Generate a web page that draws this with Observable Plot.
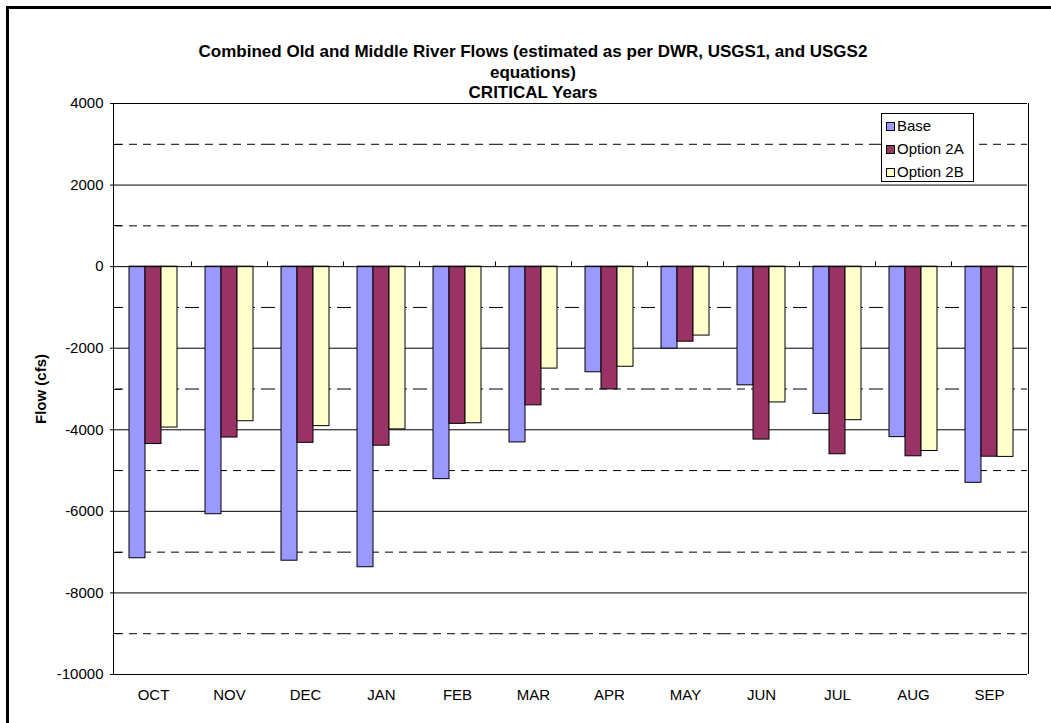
<!DOCTYPE html>
<html><head><meta charset="utf-8">
<script src="https://cdn.jsdelivr.net/npm/d3@7"></script>
<script src="https://cdn.jsdelivr.net/npm/@observablehq/plot@0.6"></script>
<style>
body{margin:0;background:#fff;font-family:"Liberation Sans",Arial,sans-serif;}
#wrap{position:relative;width:1051px;height:723px;overflow:hidden;background:#fff;}
#wrap svg{position:absolute;left:0;top:0;}
#border{position:absolute;left:6px;top:6px;width:1100px;height:800px;border-left:3px solid #000;border-top:3px solid #000;}
.title{position:absolute;left:0;width:1066px;text-align:center;font-weight:bold;font-size:17px;line-height:20px;color:#000;white-space:nowrap;}
#ylabel{position:absolute;left:41px;top:424px;transform-origin:0 0;transform:rotate(-90deg) translateY(-50%);font-weight:bold;font-size:15px;white-space:nowrap;line-height:16px;}
#legend{position:absolute;left:881px;top:113px;width:91px;height:67px;border:1px solid #000;background:#fff;font-size:15px;}
.li{position:absolute;left:4px;height:20px;line-height:20px;white-space:nowrap;}
.sw{display:inline-block;width:7px;height:7px;border:1px solid #000;margin-right:2px;vertical-align:middle;position:relative;top:-1px;}
</style>
</head><body>
<div id="wrap">
  <div id="border"></div>
  <div class="title" id="t1" style="top:42px"></div>
  <div class="title" id="t2" style="top:63px"></div>
  <div class="title" id="t3" style="top:83px"></div>
  <div id="ylabel"></div>
  <div id="legend"></div>
</div>
<script>
const titleLines = ["Combined Old and Middle River Flows (estimated as per DWR, USGS1, and USGS2", "equations)", "CRITICAL Years"];
const yLabel = "Flow (cfs)";
const months = ["OCT","NOV","DEC","JAN","FEB","MAR","APR","MAY","JUN","JUL","AUG","SEP"];
const seriesNames = ["Base","Option 2A","Option 2B"];
const seriesColors = ["#9999FF","#993366","#FFFFCC"];
const base  = [-7150,-6070,-7210,-7370,-5210,-4310,-2590,-2010,-2910,-3610,-4180,-5300];
const opt2A = [-4350,-4190,-4320,-4390,-3855,-3400,-3010,-1840,-4240,-4600,-4650,-4660];
const opt2B = [-3945,-3790,-3910,-3990,-3840,-2500,-2455,-1690,-3330,-3765,-4520,-4665];
const yTicks = [4000,2000,0,-2000,-4000,-6000,-8000,-10000];
const solidGrid = [2000,-2000,-4000,-6000,-8000];
const dashedGrid = [3000,1000,-1000,-3000,-5000,-7000,-9000];
const yDomain = [-10000,4000];

const seriesValues = [base, opt2A, opt2B];
const data = months.flatMap((m,i)=>seriesNames.map((s,j)=>({month:m, series:s, value:seriesValues[j][i]})));

document.getElementById("t1").textContent = titleLines[0];
document.getElementById("t2").textContent = titleLines[1];
document.getElementById("t3").textContent = titleLines[2];
document.getElementById("ylabel").textContent = yLabel;
const leg = document.getElementById("legend");
seriesNames.forEach((s,j)=>{
  const d = document.createElement("div");
  d.className="li"; d.style.top = (2 + j*23) + "px";
  const sw = document.createElement("span"); sw.className="sw"; sw.style.background = seriesColors[j];
  d.appendChild(sw); d.appendChild(document.createTextNode(s));
  leg.appendChild(d);
});

const chart = Plot.plot({
  width:1051, height:723,
  marginTop:103, marginBottom:49, marginLeft:113, marginRight:22,
  style:{fontFamily:'"Liberation Sans",Arial,sans-serif', fontSize:"15px", color:"#000", background:"transparent", overflow:"visible"},
  fx:{domain:months, padding:0, axis:"bottom", label:null, tickSize:0, tickPadding:15},
  x:{domain:seriesNames, axis:null, paddingInner:0, paddingOuter:0.744},
  y:{domain:yDomain, ticks:yTicks, tickSize:5, tickPadding:7, label:null, tickFormat:d=>String(d)},
  color:{domain:seriesNames, range:seriesColors},
  marks:[
    Plot.ruleY(solidGrid, {stroke:"#000", strokeWidth:1}),
    Plot.ruleY(dashedGrid, {stroke:"#000", strokeWidth:1, strokeDasharray:"8,6"}),
    Plot.ruleY(yDomain, {stroke:"#000", strokeWidth:1}),
    Plot.barY(data, {fx:"month", x:"series", y:"value", fill:"series", stroke:"#000", strokeWidth:1, inset:0}),
    Plot.ruleY([0], {stroke:"#000", strokeWidth:1})
  ]
});
document.getElementById("wrap").insertBefore(chart, document.getElementById("border"));

// decorations from the library's scales
const fx = chart.scale("fx"), y = chart.scale("y");
const g = d3.select(chart).append("g").attr("stroke","#000").attr("stroke-width",1).attr("fill","none");
const xl = Math.round(fx.range[0]) + 0.5, xr = Math.round(fx.range[1]) - 0.5;
const yt = y.apply(yDomain[1]), yb = y.apply(yDomain[0]);
g.append("line").attr("x1",xl).attr("x2",xl).attr("y1",yt).attr("y2",yb);
g.append("line").attr("x1",xr).attr("x2",xr).attr("y1",yt).attr("y2",yb);
const y0 = Math.round(y.apply(0)) + 0.5;
months.slice(1).forEach(m=>{
  const x = Math.round(fx.apply(m)) + 0.5;
  g.append("line").attr("x1",x).attr("x2",x).attr("y1",y0-5).attr("y2",y0);
});
dashedGrid.forEach(v=>{
  const yy = Math.round(y.apply(v)) + 0.5;
  g.append("line").attr("x1",xl).attr("x2",xl+8).attr("y1",yy).attr("y2",yy);
});
</script>
</body></html>
